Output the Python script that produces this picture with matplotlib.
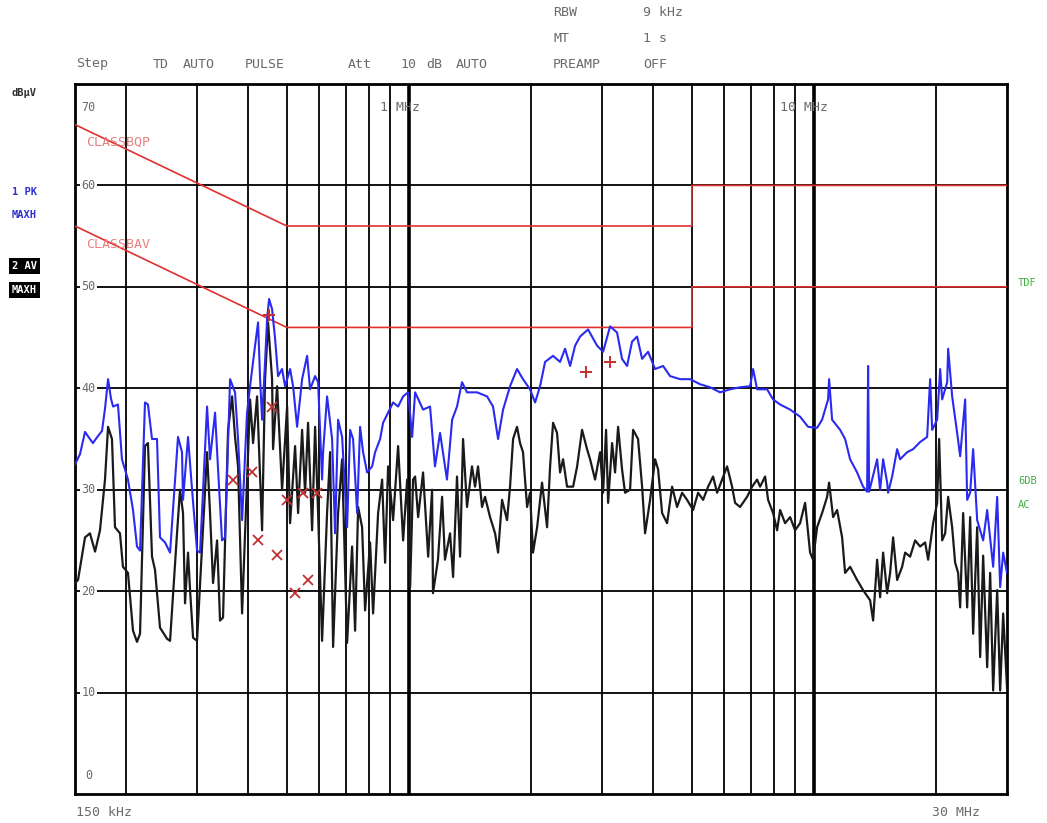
import matplotlib
matplotlib.use("Agg")
import matplotlib.pyplot as plt

# peak (max hold) trace, kHz / dBuV
pk_freq = [150, 154.3, 158.8, 163.3, 166.1, 171.0, 174.9, 177.9, 181.0, 184.0, 186.2, 191.5, 195.9, 202.7,
           208.6, 213.4, 217.1, 223.3, 227.1, 232.4, 239.1, 243.2, 250.3, 257.5, 269.4, 275.6, 277.2, 285.2,
           291.8, 300.2, 305.4, 317.8, 323.2, 332.6, 338.3, 346.0, 352.0, 362.2, 372.6, 379.0, 387.8, 398.9,
           405.8, 417.5, 424.7, 429.6, 434.5, 441.9, 447.0, 452.1, 459.9, 467.8, 475.8, 486.8, 495.2, 509.5,
           518.3, 530.2, 545.5, 561.2, 570.8, 587.3, 597.4, 611.1, 614.6, 628.7, 646.9, 658.0, 669.3, 684.8,
           704.5, 716.6, 728.9, 745.8, 758.5, 771.5, 789.4, 812.1, 826.1, 849.9, 864.5, 889.4, 915.1, 941.5,
           968.7, 996.7, 1019.6, 1037, 1085, 1129, 1161, 1195, 1243, 1280, 1316, 1354, 1393, 1475, 1561, 1615,
           1662, 1710, 1779, 1851, 1915, 1993, 2051, 2110, 2171, 2272, 2364, 2432, 2503, 2575, 2649, 2772,
           2918, 3019, 3142, 3269, 3363, 3460, 3560, 3663, 3769, 3899, 4058, 4247, 4419, 4677, 4951, 5241,
           5547, 5872, 6215, 6579, 6964, 7084, 7246, 7671, 7936, 8259, 8742, 9253, 9684, 10192, 10486, 10849,
           10911, 11100, 11616, 11951, 12296, 12795, 13239, 13545, 13621, 13699, 14337, 14583, 14834, 15177,
           15262, 15614, 16065, 16340, 17004, 17594, 18308, 19053, 19380, 19603, 20168, 20514, 20750, 21349,
           21469, 21964, 22598, 22985, 23648, 23920, 24330, 24748, 25320, 26197, 26802, 27730, 28371, 28857,
           29353, 30000]
pk_dbuv = [32.5, 33.5, 35.7, 35.0, 34.6, 35.3, 35.8, 38.0, 40.9, 39.0, 38.2, 38.4, 33.0, 31.0,
           28.0, 24.4, 24.0, 38.6, 38.4, 35.0, 35.0, 25.3, 24.8, 23.8, 35.2, 33.7, 29.0, 35.2,
           30.0, 24.0, 23.8, 38.2, 33.0, 37.6, 32.0, 25.0, 25.3, 40.9, 39.6, 35.0, 27.0, 37.6,
           40.2, 44.2, 46.5, 40.9, 36.9, 42.6, 46.8, 48.8, 47.8, 44.9, 41.2, 41.9, 40.2, 41.9,
           40.2, 36.2, 40.9, 43.2, 39.9, 41.2, 40.6, 31.0, 33.7, 39.2, 35.0, 25.7, 36.9, 35.2,
           26.3, 35.9, 35.0, 27.7, 36.2, 33.7, 31.7, 32.3, 33.7, 35.0, 36.6, 37.6, 38.6, 38.2,
           39.2, 39.6, 35.2, 39.6, 37.9, 38.2, 32.3, 35.6, 31.0, 36.9, 38.2, 40.6, 39.6, 39.6, 39.2, 38.2,
           35.0, 37.9, 40.2, 41.9, 40.9, 39.9, 38.6, 40.2, 42.6, 43.2, 42.6, 43.9, 42.2, 44.2, 45.1, 45.8,
           44.2, 43.6, 46.1, 45.5, 42.9, 42.2, 44.6, 45.1, 42.9, 43.6, 41.9, 42.2, 41.2, 40.9, 40.9, 40.4,
           40.1, 39.6, 39.9, 40.1, 40.2, 41.9, 39.9, 39.9, 38.9, 38.4, 37.9, 37.2, 36.2, 36.1, 36.9, 38.9,
           40.9, 36.9, 35.9, 35.0, 33.0, 31.7, 30.3, 29.8, 42.2, 29.8, 33.0, 30.0, 33.0, 30.7,
           29.7, 31.3, 34.0, 33.0, 33.7, 34.0, 34.7, 35.2, 40.9, 35.9, 36.9, 41.9, 38.9, 40.6,
           43.9, 39.2, 35.6, 33.3, 38.9, 29.0, 29.7, 34.0, 27.0, 25.0, 28.0, 22.4, 29.3, 20.4,
           23.8, 21.8]

# average (max hold) trace, kHz / dBuV
av_freq = [150, 152.6, 158.8, 163.3, 168.1, 172.9, 177.9, 181.0, 185.1, 188.3, 193.7, 197.0, 202.7, 208.6,
           213.4, 217.1, 223.3, 227.1, 232.4, 236.4, 243.2, 253.2, 257.5, 267.9, 272.5, 277.2, 280.4, 285.2,
           288.5, 293.5, 300.2, 308.9, 317.8, 323.2, 328.8, 336.4, 342.1, 348.0, 358.1, 366.4, 372.6, 379.0,
           387.8, 398.9, 405.8, 412.8, 422.3, 434.5, 441.9, 449.5, 459.9, 462.5, 473.2, 486.8, 500.9, 509.5,
           524.2, 533.2, 545.5, 554.8, 564.3, 577.4, 587.3, 597.4, 611.1, 628.7, 639.6, 650.6, 669.3, 684.8,
           704.5, 724.8, 737.3, 750.0, 767.2, 780.4, 802.9, 816.7, 840.3, 859.7, 874.4, 889.4, 915.1, 941.5,
           968.7, 991.1, 1008, 1025, 1037, 1055, 1085, 1117, 1142, 1148, 1181, 1209, 1229, 1265, 1287, 1316,
           1339, 1362, 1393, 1433, 1458, 1483, 1517, 1543, 1588, 1634, 1662, 1700, 1749, 1779, 1810, 1851,
           1883, 1915, 1960, 1993, 2027, 2075, 2134, 2196, 2234, 2272, 2324, 2364, 2405, 2460, 2546, 2605,
           2679, 2756, 2804, 2885, 2968, 3019, 3071, 3107, 3178, 3232, 3288, 3363, 3421, 3520, 3581, 3683,
           3769, 3833, 3944, 4058, 4128, 4223, 4344, 4470, 4598, 4731, 4867, 5036, 5182, 5331, 5485, 5642,
           5773, 5940, 6110, 6286, 6394, 6579, 6846, 7044, 7246, 7371, 7584, 7714, 7936, 8119, 8259, 8497,
           8742, 8994, 9253, 9520, 9794, 9962, 10192, 10486, 10789, 10911, 11163, 11420, 11750, 11951, 12296,
           12795, 13239, 13777, 14014, 14337, 14583, 14834, 15177, 15437, 15702, 16065, 16528, 16811, 17296,
           17795, 18308, 18836, 19160, 19713, 20168, 20398, 20750, 21106, 21469, 21964, 22341, 22725, 22985,
           23380, 23920, 24330, 24748, 25320, 25754, 26197, 26802, 27261, 27730, 28371, 28857, 29353, 30000]
av_dbuv = [20.8, 21.1, 25.3, 25.7, 23.9, 26.0, 31.0, 36.2, 35.0, 26.3, 25.7, 22.4, 21.8, 16.1,
           15.0, 15.8, 34.3, 34.6, 23.4, 22.1, 16.4, 15.3, 15.1, 25.7, 30.0, 27.7, 18.8, 23.8,
           20.1, 15.4, 15.1, 24.4, 33.7, 27.7, 20.8, 25.0, 17.1, 17.4, 35.9, 39.2, 35.2, 32.3,
           17.8, 31.0, 38.9, 34.6, 39.2, 26.0, 40.9, 46.5, 40.9, 34.0, 40.2, 30.0, 38.2, 26.7,
           34.3, 27.7, 35.9, 29.7, 36.6, 26.0, 36.2, 27.7, 15.1, 27.7, 33.7, 14.5, 27.7, 33.0,
           14.9, 24.4, 16.1, 28.3, 26.3, 18.1, 24.8, 17.8, 27.7, 31.0, 22.8, 32.3, 27.0, 34.3,
           25.0, 31.0, 20.4, 31.0, 31.3, 27.3, 31.7, 23.4, 30.0, 19.8, 23.1, 29.3, 23.1, 25.7, 21.4, 31.3,
           23.4, 35.0, 28.3, 32.3, 30.3, 32.3, 28.3, 29.3, 27.3, 25.7, 23.8, 29.0, 27.0, 30.3, 35.0, 36.2,
           34.6, 33.7, 28.3, 29.7, 23.8, 26.3, 30.7, 26.3, 32.3, 36.6, 35.6, 31.7, 33.0, 30.3, 30.3, 32.3,
           35.9, 34.0, 33.0, 31.0, 33.7, 29.7, 35.9, 28.7, 34.6, 31.7, 36.2, 32.0, 29.7, 30.0, 35.9, 35.0,
           30.3, 25.7, 29.0, 33.0, 32.0, 27.7, 26.7, 30.3, 28.3, 29.7, 29.0, 28.0, 29.7, 29.0, 30.3, 31.3,
           29.7, 31.0, 32.3, 30.3, 28.7, 28.3, 29.3, 30.3, 31.0, 30.3, 31.3, 29.0, 27.7, 26.0, 28.0, 26.7,
           27.3, 26.0, 26.7, 28.7, 23.8, 23.1, 26.3, 27.7, 29.3, 30.7, 27.3, 28.0, 25.3, 21.8, 22.4,
           21.1, 20.1, 19.1, 17.1, 23.1, 19.4, 23.8, 19.8, 21.8, 25.3, 21.1, 22.4, 23.8, 23.4,
           25.0, 24.4, 24.8, 23.1, 26.7, 28.7, 35.0, 25.0, 25.7, 29.3, 26.3, 22.8, 21.8, 18.4,
           27.7, 18.4, 27.3, 15.8, 26.3, 13.5, 23.5, 12.5, 21.8, 10.2, 20.1, 10.2, 17.8, 10.5]

# limit lines EN55022 class B
qp_lim_freq = [150, 500, 5000, 5000, 30000]
qp_lim_dbuv = [66, 56, 56, 60, 60]
av_lim_freq = [150, 500, 5000, 5000, 30000]
av_lim_dbuv = [56, 46, 46, 50, 50]

# final measurement markers
qp_mark_freq = [452, 2740, 3140]
qp_mark_dbuv = [47.2, 41.6, 42.6]
av_mark_freq = [368, 410, 424.5, 460, 473, 501, 524, 548, 564, 594]
av_mark_dbuv = [31.0, 31.7, 25.0, 38.2, 23.6, 29.0, 19.8, 29.7, 21.1, 29.7]

grid_freq = [200, 300, 400, 500, 600, 700, 800, 900, 1000, 2000, 3000, 4000, 5000,
             6000, 7000, 8000, 9000, 10000, 20000]
level_ticks = [10, 20, 30, 40, 50, 60]

# header words and their left edge in pixels
header_words = [("Step", 76), ("TD", 153), ("AUTO", 183), ("PULSE", 245), ("Att", 348),
                ("10", 400), ("dB", 426), ("AUTO", 456), ("PREAMP", 553), ("OFF", 643)]

mono = "DejaVu Sans Mono"
txt = "#6a6a6a"
W, H = 1047, 823

fig = plt.figure(figsize=(10.47, 8.23), dpi=100)
ax = fig.add_axes([75 / W, 29 / H, 932 / W, 710 / H])
ax.set_xscale("log")
ax.set_xlim(150, 30000)
ax.set_ylim(0, 70)
ax.set_xticks([])
ax.set_yticks([])
ax.minorticks_off()
for s in ax.spines.values():
    s.set_linewidth(2)

for f in grid_freq:
    lw = 2.6 if f in (1000, 10000) else 1.3
    ax.axvline(f, color="black", lw=lw, zorder=1)
for v in level_ticks:
    ax.axhline(v, color="black", lw=1.3, zorder=1)
    ax.text(162, v, str(v), family=mono, fontsize=8.5, color=txt, va="center", ha="center",
            bbox=dict(facecolor="white", edgecolor="none", pad=1), zorder=2)
ax.text(162, 67.7, "70", family=mono, fontsize=8.5, color=txt, ha="center", va="center")
ax.text(162, 1.8, "0", family=mono, fontsize=8.5, color=txt, ha="center", va="center")
ax.text(850, 67.7, "1 MHz", family=mono, fontsize=9.5, color=txt, ha="left", va="center")
ax.text(8259, 67.7, "10 MHz", family=mono, fontsize=9.5, color=txt, ha="left", va="center")

ax.plot(qp_lim_freq, qp_lim_dbuv, color="#e03030", lw=1.2, zorder=3)
ax.plot(av_lim_freq, av_lim_dbuv, color="#e03030", lw=1.2, zorder=3)
ax.text(160, 64.3, "CLASSBQP", family=mono, fontsize=9.5, color="#e88080", va="center")
ax.text(160, 54.2, "CLASSBAV", family=mono, fontsize=9.5, color="#e88080", va="center")

ax.plot(av_freq, av_dbuv, color="#1a1a1a", lw=1.6, zorder=4)
ax.plot(pk_freq, pk_dbuv, color="#2a2af0", lw=1.5, zorder=5)

ax.plot(qp_mark_freq, qp_mark_dbuv, ls="none", marker="+", ms=9, mew=1.4, color="#c03030", zorder=6)
ax.plot(av_mark_freq, av_mark_dbuv, ls="none", marker="x", ms=7, mew=1.3, color="#c03030", zorder=6)

# header / side annotations
for word, px in header_words:
    fig.text(px / W, 1 - 64 / H, word, family=mono, fontsize=9.5, color=txt, va="center")
fig.text(553 / W, 1 - 13 / H, "RBW", family=mono, fontsize=9.5, color=txt, va="center")
fig.text(643 / W, 1 - 13 / H, "9 kHz", family=mono, fontsize=9.5, color=txt, va="center")
fig.text(553 / W, 1 - 38 / H, "MT", family=mono, fontsize=9.5, color=txt, va="center")
fig.text(643 / W, 1 - 38 / H, "1 s", family=mono, fontsize=9.5, color=txt, va="center")
fig.text(12 / W, 1 - 93 / H, "dBµV", family=mono, fontsize=7.5, color="#303030",
         weight="bold", va="center")
fig.text(12 / W, 1 - 192 / H, "1 PK", family=mono, fontsize=7.5, color="#3030d0",
         weight="bold", va="center")
fig.text(12 / W, 1 - 215 / H, "MAXH", family=mono, fontsize=7.5, color="#3030d0",
         weight="bold", va="center")
fig.text(12 / W, 1 - 266 / H, "2 AV", family=mono, fontsize=7.5, color="white",
         weight="bold", va="center", bbox=dict(facecolor="black", edgecolor="none", pad=2))
fig.text(12 / W, 1 - 290 / H, "MAXH", family=mono, fontsize=7.5, color="white",
         weight="bold", va="center", bbox=dict(facecolor="black", edgecolor="none", pad=2))
fig.text(1018 / W, 1 - 283 / H, "TDF", family=mono, fontsize=7.5, color="#40b040", va="center")
fig.text(1018 / W, 1 - 481 / H, "6DB", family=mono, fontsize=7.5, color="#40b040", va="center")
fig.text(1018 / W, 1 - 505 / H, "AC", family=mono, fontsize=7.5, color="#40b040", va="center")
fig.text(76 / W, 1 - 812 / H, "150 kHz", family=mono, fontsize=9.5, color=txt, va="center")
fig.text(932 / W, 1 - 812 / H, "30 MHz", family=mono, fontsize=9.5, color=txt, va="center")

fig.savefig("out.png", dpi=100)
plt.close(fig)
